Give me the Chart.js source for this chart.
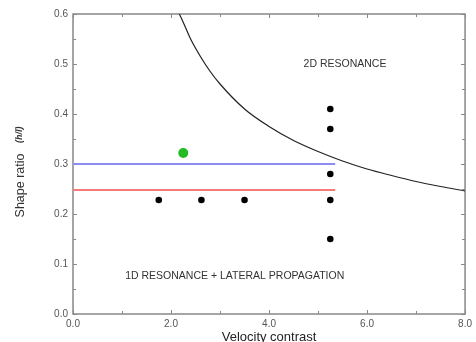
<!DOCTYPE html>
<html>
<head>
<meta charset="utf-8">
<script src="https://cdn.jsdelivr.net/npm/chart.js@4"></script>
<style>
  html, body { margin: 0; padding: 0; background: #fff; }
  #wrap { width: 476px; height: 342px; }
</style>
</head>
<body>
<div id="wrap"><canvas id="myChart"></canvas></div>
<script>
// critical shape ratio curve
const curveX = [2.17, 2.2, 2.3, 2.4, 2.6, 2.8, 3.0, 3.5, 4.0, 4.5, 5.0, 5.5, 6.0, 6.5, 7.0, 7.5, 8.0];
const curveY = [0.60, 0.594, 0.572, 0.55, 0.515, 0.485, 0.46, 0.41, 0.375, 0.347, 0.325, 0.306, 0.29, 0.277, 0.265, 0.255, 0.246];

// black dots
const dotX = [1.75, 2.62, 3.5, 5.25, 5.25, 5.25, 5.25, 5.25];
const dotY = [0.228, 0.228, 0.228, 0.41, 0.37, 0.28, 0.228, 0.15];

// green dot
const greenX = [2.25];
const greenY = [0.322];

// horizontal lines
const blueX = [0, 5.35];
const blueY = [0.30, 0.30];
const redX = [0, 5.35];
const redY = [0.248, 0.248];

// region labels
const labelText = ['2D RESONANCE', '1D RESONANCE + LATERAL PROPAGATION'];
const labelX = [5.55, 3.3];
const labelY = [0.50, 0.076];

const FONT = "'Liberation Sans', Arial, sans-serif";

function pts(xs, ys) {
    return xs.map((x, i) => ({ x: x, y: ys[i] }));
}

// frame + inward tick marks on all four sides
const framePlugin = {
    id: 'frame',
    beforeDatasetsDraw(chart) {
        const ctx = chart.ctx;
        const a = chart.chartArea;
        const xs = chart.scales.x, ys = chart.scales.y;
        ctx.save();
        ctx.strokeStyle = '#888';
        ctx.lineWidth = 1.5;
        ctx.strokeRect(a.left, a.top, a.right - a.left, a.bottom - a.top);
        ctx.lineWidth = 1;
        ctx.beginPath();
        for (let v = 0; v <= 8; v++) {
            const px = Math.round(xs.getPixelForValue(v)) + 0.5;
            const len = v % 2 === 0 ? 4 : 3;
            ctx.moveTo(px, a.bottom); ctx.lineTo(px, a.bottom - len);
            ctx.moveTo(px, a.top); ctx.lineTo(px, a.top + len);
        }
        for (let i = 0; i <= 12; i++) {
            const py = Math.round(ys.getPixelForValue(i * 0.05)) + 0.5;
            const len = i % 2 === 0 ? 4 : 3;
            ctx.moveTo(a.left, py); ctx.lineTo(a.left + len, py);
            ctx.moveTo(a.right, py); ctx.lineTo(a.right - len, py);
        }
        ctx.stroke();
        ctx.restore();
    },
    afterDraw(chart) {
        const ctx = chart.ctx;
        const xs = chart.scales.x, ys = chart.scales.y;
        ctx.save();
        // region labels
        ctx.fillStyle = '#333';
        ctx.font = '10.5px ' + FONT;
        ctx.textAlign = 'center';
        ctx.textBaseline = 'middle';
        labelText.forEach((t, i) => {
            ctx.fillText(t, xs.getPixelForValue(labelX[i]), ys.getPixelForValue(labelY[i]));
        });
        // y axis title with italic (h/l)
        ctx.translate(21, 172);
        ctx.rotate(-Math.PI / 2);
        ctx.textAlign = 'left';
        ctx.fillStyle = '#333';
        const t1 = 'Shape ratio   ';
        ctx.font = '12.5px ' + FONT;
        const w1 = ctx.measureText(t1).width;
        ctx.font = 'italic bold 9px ' + FONT;
        const w2 = ctx.measureText('(h/l)').width;
        const start = -(w1 + w2) / 2;
        ctx.font = '12.5px ' + FONT;
        ctx.fillText(t1, start, 0);
        ctx.font = 'italic bold 9px ' + FONT;
        ctx.fillText('(h/l)', start + w1, -1);
        ctx.restore();
    }
};

const ctx = document.getElementById('myChart').getContext('2d');

new Chart(ctx, {
    type: 'scatter',
    data: {
        datasets: [
            {
                data: pts(curveX, curveY),
                showLine: true,
                borderColor: '#222',
                borderWidth: 1.2,
                pointRadius: 0,
                cubicInterpolationMode: 'monotone'
            },
            {
                data: pts(blueX, blueY),
                showLine: true,
                borderColor: '#8c8cf5',
                borderWidth: 2,
                pointRadius: 0
            },
            {
                data: pts(redX, redY),
                showLine: true,
                borderColor: '#f57a7a',
                borderWidth: 2,
                pointRadius: 0
            },
            {
                data: pts(dotX, dotY),
                backgroundColor: '#000',
                borderWidth: 0,
                pointRadius: 3.3
            },
            {
                data: pts(greenX, greenY),
                backgroundColor: '#22bb22',
                borderWidth: 0,
                pointRadius: 5
            }
        ]
    },
    options: {
        responsive: true,
        maintainAspectRatio: false,
        animation: false,
        layout: { padding: { top: 14, right: 9, left: 0, bottom: 0 } },
        plugins: {
            legend: { display: false },
            tooltip: { enabled: false }
        },
        scales: {
            x: {
                type: 'linear',
                min: 0,
                max: 8,
                grid: { display: false, drawTicks: false },
                border: { display: false },
                ticks: {
                    stepSize: 2,
                    padding: 4,
                    color: '#555',
                    font: { family: FONT, size: 10 },
                    maxRotation: 0,
                    callback: v => v.toFixed(1)
                },
                title: {
                    display: true,
                    text: 'Velocity contrast',
                    color: '#222',
                    padding: { top: 0, bottom: -3 },
                    font: { family: FONT, size: 13 }
                },
                afterFit: s => { s.height = 28; }
            },
            y: {
                type: 'linear',
                min: 0,
                max: 0.6,
                grid: { display: false, drawTicks: false },
                border: { display: false },
                ticks: {
                    stepSize: 0.1,
                    padding: 5,
                    color: '#555',
                    font: { family: FONT, size: 10 },
                    callback: v => v.toFixed(1)
                },
                afterFit: s => { s.width = 73; }
            }
        }
    },
    plugins: [framePlugin]
});
</script>
</body>
</html>
